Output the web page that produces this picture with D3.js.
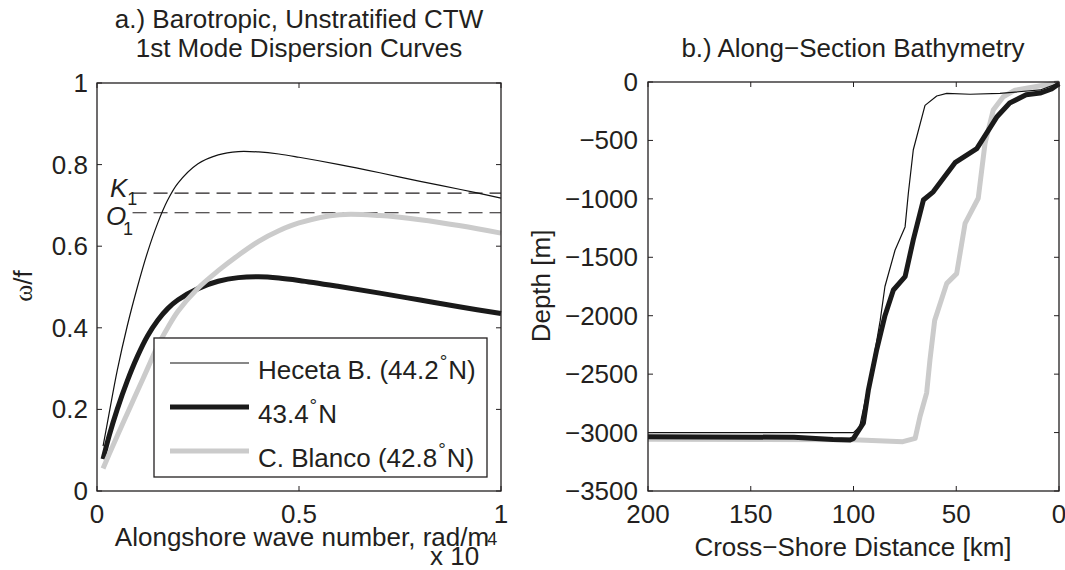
<!DOCTYPE html>
<html>
<head>
<meta charset="utf-8">
<script src="https://cdn.jsdelivr.net/npm/d3@7"></script>
<style>
  html, body { margin: 0; padding: 0; background: #fff; }
  svg { display: block; }
  text { font-family: "Liberation Sans", Arial, Helvetica, sans-serif; fill: #231f20; }
</style>
</head>
<body>
<svg id="chart" width="1065" height="570"></svg>
<script>
// ---------- Panel a: dispersion curves ----------
const waveNumber = [0.015, 0.03, 0.05, 0.075, 0.1, 0.125, 0.15, 0.175, 0.2, 0.25, 0.3, 0.35, 0.4, 0.45, 0.5, 0.6, 0.7, 0.8, 0.9, 1.0];
const hecetaOmega = [0.11, 0.19, 0.295, 0.405, 0.50, 0.585, 0.656, 0.713, 0.754, 0.802, 0.824, 0.832, 0.831, 0.826, 0.818, 0.800, 0.780, 0.759, 0.739, 0.718];
const mid434Omega = [0.078, 0.135, 0.20, 0.27, 0.33, 0.38, 0.418, 0.447, 0.468, 0.496, 0.514, 0.523, 0.525, 0.522, 0.516, 0.501, 0.485, 0.468, 0.451, 0.435];
const blancoOmega = [0.055, 0.09, 0.135, 0.19, 0.245, 0.30, 0.355, 0.40, 0.44, 0.497, 0.54, 0.578, 0.612, 0.638, 0.657, 0.677, 0.675, 0.665, 0.65, 0.632];
const tidalNames = ["K", "O"];
const tidalFreq = [0.73, 0.682];
const tidalStart = 0.088;
const seriesNames = ["Heceta B. (44.2", "43.4", "C. Blanco (42.8"];
const seriesTail = ["N)", "N", "N)"];
const xTicksA = [0, 0.5, 1];
const yTicksA = [0, 0.2, 0.4, 0.6, 0.8, 1];

// ---------- Panel b: bathymetry ----------
const hecetaDist  = [200, 100, 97, 94, 90, 87, 84.7, 79.8, 74.9, 73.3, 70.9, 65.2, 59.5, 54.6, 43.3, 28.7, 9.2, 0];
const hecetaDepth = [-3000, -3000, -2950, -2700, -2350, -2040, -1750, -1440, -1240, -950, -580, -200, -120, -97, -105, -97, -68, -10];
const mid434Dist  = [200, 129, 110, 101.7, 100, 95.2, 92.8, 88.7, 84.7, 80.6, 74.9, 70.9, 66, 61.2, 50.6, 40, 30.3, 24, 16, 9.2, 3.6, 0];
const mid434Depth = [-3035, -3040, -3060, -3064, -3050, -2920, -2640, -2290, -2000, -1780, -1666, -1350, -1010, -940, -690, -570, -300, -180, -110, -95, -60, -15];
const blancoDist  = [200, 100, 76, 70, 67.6, 64.4, 62.8, 60.5, 54.6, 49.8, 45.7, 39.3, 36, 32, 27.1, 21.4, 6.8, 0];
const blancoDepth = [-3058, -3062, -3078, -3050, -2860, -2660, -2380, -2040, -1723, -1640, -1210, -995, -525, -240, -126, -70, -26, -5];
const xTicksB = [200, 150, 100, 50, 0];
const yTicksB = [0, -500, -1000, -1500, -2000, -2500, -3000, -3500];

const styles = [
  { color: "#111111", width: 1.2 },
  { color: "#1a1a1a", width: 5 },
  { color: "#cbcbcb", width: 5 }
];

const svg = d3.select("#chart");
const FS = 26;
const tickLen = 5;
const minus = s => String(s).replace("-", "\u2212");

function box(g, x0, x1, y0, y1) {
  g.append("rect").attr("x", x0).attr("y", y0).attr("width", x1 - x0).attr("height", y1 - y0)
    .attr("fill", "none").attr("stroke", "#231f20").attr("stroke-width", 1.3);
}

// ===== Panel a =====
const ax = { l: 97, r: 501, t: 83, b: 491 };
const xA = d3.scaleLinear().domain([0, 1]).range([ax.l, ax.r]);
const yA = d3.scaleLinear().domain([0, 1]).range([ax.b, ax.t]);
const gA = svg.append("g");

tidalFreq.forEach((f, i) => {
  gA.append("line").attr("x1", xA(tidalStart)).attr("x2", xA(1))
    .attr("y1", yA(f)).attr("y2", yA(f))
    .attr("stroke", "#231f20").attr("stroke-width", 1.1).attr("stroke-dasharray", "14,7");
});

const lineA = d3.line().curve(d3.curveCatmullRom.alpha(0.5)).x(d => xA(d[0])).y(d => yA(d[1]));
[hecetaOmega, mid434Omega, blancoOmega].forEach((vals, i) => {
  gA.append("path").datum(waveNumber.map((k, j) => [k, vals[j]]))
    .attr("d", lineA).attr("fill", "none")
    .attr("stroke", styles[i].color).attr("stroke-width", styles[i].width)
    .attr("stroke-linejoin", "round");
});

box(gA, ax.l, ax.r, ax.t, ax.b);
xTicksA.forEach(v => {
  gA.append("line").attr("x1", xA(v)).attr("x2", xA(v)).attr("y1", ax.b).attr("y2", ax.b - tickLen).attr("stroke", "#231f20");
  gA.append("line").attr("x1", xA(v)).attr("x2", xA(v)).attr("y1", ax.t).attr("y2", ax.t + tickLen).attr("stroke", "#231f20");
  gA.append("text").attr("x", xA(v)).attr("y", 523).attr("text-anchor", "middle").attr("font-size", FS).text(v);
});
yTicksA.forEach(v => {
  gA.append("line").attr("x1", ax.l).attr("x2", ax.l + tickLen).attr("y1", yA(v)).attr("y2", yA(v)).attr("stroke", "#231f20");
  gA.append("line").attr("x1", ax.r).attr("x2", ax.r - tickLen).attr("y1", yA(v)).attr("y2", yA(v)).attr("stroke", "#231f20");
  gA.append("text").attr("x", 88).attr("y", yA(v) + 9).attr("text-anchor", "end").attr("font-size", FS).text(v);
});

// K1 / O1 labels
const kLab = gA.append("text").attr("x", 110).attr("y", 197).attr("font-size", FS).attr("font-style", "italic");
kLab.append("tspan").text(tidalNames[0]);
kLab.append("tspan").attr("font-size", 18).attr("font-style", "normal").attr("dy", 8).text("1");
const oLab = gA.append("text").attr("x", 106).attr("y", 225).attr("font-size", FS).attr("font-style", "italic");
oLab.append("tspan").text(tidalNames[1]);
oLab.append("tspan").attr("x", 123).attr("font-size", 18).attr("font-style", "normal").attr("dy", 10).text("1");

// titles
gA.append("text").attr("x", 299).attr("y", 28).attr("text-anchor", "middle").attr("font-size", FS)
  .text("a.) Barotropic, Unstratified CTW");
gA.append("text").attr("x", 299).attr("y", 57).attr("text-anchor", "middle").attr("font-size", FS)
  .text("1st Mode Dispersion Curves");
// axis labels
gA.append("text").attr("x", 302).attr("y", 546).attr("text-anchor", "middle").attr("font-size", FS)
  .text("Alongshore wave number, rad/m");
const expLab = gA.append("text").attr("x", 430).attr("y", 565).attr("font-size", FS);
expLab.append("tspan").text("x 10");
expLab.append("tspan").attr("font-size", 18).attr("dy", -20).attr("dx", 8).text("4");
const yl = gA.append("text").attr("transform", "translate(32,286) rotate(-90)").attr("text-anchor", "middle").attr("font-size", FS);
yl.append("tspan").attr("font-family", "'Liberation Serif', 'Times New Roman', serif").text("\u03c9");
yl.append("tspan").text("/f");

// legend
const lg = { l: 154, r: 487, t: 338, b: 477 };
gA.append("rect").attr("x", lg.l).attr("y", lg.t).attr("width", lg.r - lg.l).attr("height", lg.b - lg.t)
  .attr("fill", "#fff").attr("stroke", "#231f20").attr("stroke-width", 1.3);
const legY = [363, 407, 451];
seriesNames.forEach((name, i) => {
  gA.append("line").attr("x1", 170).attr("x2", 249).attr("y1", legY[i]).attr("y2", legY[i])
    .attr("stroke", styles[i].color).attr("stroke-width", styles[i].width);
  const t = gA.append("text").attr("x", 258).attr("y", legY[i] + 16).attr("font-size", FS);
  t.append("tspan").text(name);
  t.append("tspan").attr("font-size", 19).attr("dy", -11).attr("dx", 1).text("\u00b0");
  t.append("tspan").attr("dy", 11).attr("dx", 1).text(seriesTail[i]);
});

// ===== Panel b =====
const bx = { l: 648, r: 1059, t: 82, b: 491 };
const xB = d3.scaleLinear().domain([200, 0]).range([bx.l, bx.r]);
const yB = d3.scaleLinear().domain([-3500, 0]).range([bx.b, bx.t]);
const gB = svg.append("g");
const lineB = d3.line().x(d => xB(d[0])).y(d => yB(d[1]));
const bathy = [[hecetaDist, hecetaDepth], [mid434Dist, mid434Depth], [blancoDist, blancoDepth]];
[2, 0, 1].forEach(i => {
  const [ds, zs] = bathy[i];
  gB.append("path").datum(ds.map((d, j) => [d, zs[j]]))
    .attr("d", lineB).attr("fill", "none")
    .attr("stroke", styles[i].color).attr("stroke-width", styles[i].width)
    .attr("stroke-linejoin", "round");
});
box(gB, bx.l, bx.r, bx.t, bx.b);
xTicksB.forEach(v => {
  gB.append("line").attr("x1", xB(v)).attr("x2", xB(v)).attr("y1", bx.b).attr("y2", bx.b - tickLen).attr("stroke", "#231f20");
  gB.append("line").attr("x1", xB(v)).attr("x2", xB(v)).attr("y1", bx.t).attr("y2", bx.t + tickLen).attr("stroke", "#231f20");
  gB.append("text").attr("x", xB(v)).attr("y", 523).attr("text-anchor", "middle").attr("font-size", FS).text(v);
});
yTicksB.forEach(v => {
  gB.append("line").attr("x1", bx.l).attr("x2", bx.l + tickLen).attr("y1", yB(v)).attr("y2", yB(v)).attr("stroke", "#231f20");
  gB.append("line").attr("x1", bx.r).attr("x2", bx.r - tickLen).attr("y1", yB(v)).attr("y2", yB(v)).attr("stroke", "#231f20");
  gB.append("text").attr("x", 638).attr("y", yB(v) + 9).attr("text-anchor", "end").attr("font-size", FS).text(minus(v));
});
gB.append("text").attr("x", 853).attr("y", 57).attr("text-anchor", "middle").attr("font-size", FS)
  .text("b.) Along\u2212Section Bathymetry");
gB.append("text").attr("x", 853).attr("y", 556).attr("text-anchor", "middle").attr("font-size", FS)
  .text("Cross\u2212Shore Distance [km]");
gB.append("text").attr("transform", "translate(550,286) rotate(-90)").attr("text-anchor", "middle").attr("font-size", FS)
  .text("Depth [m]");
</script>
</body>
</html>
